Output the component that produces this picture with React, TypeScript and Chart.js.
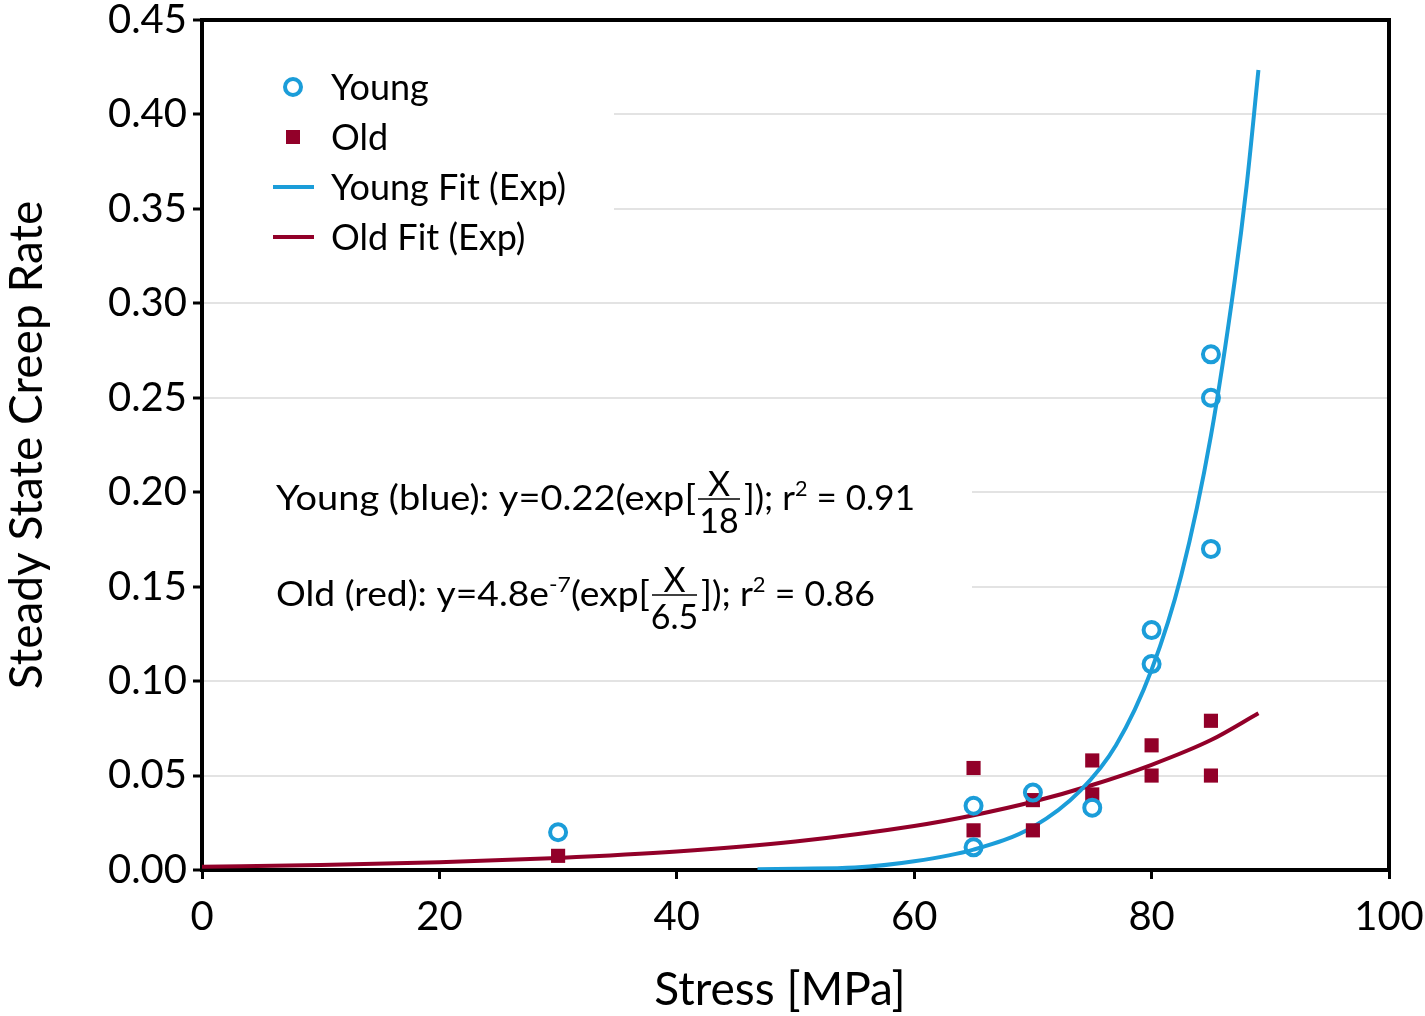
import { Chart, registerables } from "chart.js";
import { useEffect, useRef } from "react";

Chart.register(...registerables);

// measured points
const youngStress = [30, 65, 65, 70, 75, 80, 80, 85, 85, 85];
const youngRate = [0.02, 0.034, 0.012, 0.041, 0.033, 0.127, 0.109, 0.273, 0.25, 0.17];
const oldStress = [30, 65, 65, 70, 70, 75, 75, 80, 80, 85, 85];
const oldRate = [0.0075, 0.054, 0.021, 0.037, 0.021, 0.058, 0.04, 0.066, 0.05, 0.079, 0.05];

// fit curves
const youngFitStress = [46.8, 50, 55, 60, 65, 70, 74, 77, 80, 82.5, 85, 87, 88, 89];
const youngFitRate = [0.0004, 0.0007, 0.0013, 0.0046, 0.0108, 0.0228, 0.042, 0.066, 0.106, 0.156, 0.23, 0.312, 0.362, 0.4235];
const oldFitStress = [0, 10, 20, 30, 40, 50, 60, 65, 70, 75, 80, 85, 89];
const oldFitRate = [0.0017, 0.0026, 0.0041, 0.0064, 0.0098, 0.0151, 0.0233, 0.029, 0.0361, 0.045, 0.0557, 0.0688, 0.083];

const xTicks = [0, 20, 40, 60, 80, 100];
const yTicks = [0, 0.05, 0.1, 0.15, 0.2, 0.25, 0.3, 0.35, 0.4, 0.45];

const legendLabels = ["Young", "Old", "Young Fit (Exp)", "Old Fit (Exp)"];

const BLUE = "#1b9dd9";
const RED = "#920029";
const FONT = "Lato, 'Noto Sans', sans-serif";

const zip = (xs: number[], ys: number[]) => xs.map((x, i) => ({ x, y: ys[i] }));

type Piece = { t: string; sup?: boolean };

const overlay = {
  id: "overlay",
  beforeDatasetsDraw(chart: Chart) {
    const { ctx, chartArea } = chart;
    ctx.save();
    ctx.fillStyle = "#fff";
    ctx.fillRect(chartArea.left + 2, chartArea.top + 2, 410, 245);
    ctx.fillRect(chartArea.left + 2, 455, 768, 180);

    // frame
    ctx.strokeStyle = "#000";
    ctx.lineWidth = 4;
    ctx.strokeRect(chartArea.left, chartArea.top, chartArea.right - chartArea.left, chartArea.bottom - chartArea.top);

    // x axis title, sits a little left of the plot centre
    ctx.fillStyle = "#000";
    ctx.font = `46px ${FONT}`;
    ctx.textAlign = "center";
    ctx.textBaseline = "middle";
    ctx.fillText("Stress [MPa]", 780, 990);
    ctx.textAlign = "left";

    // legend
    ctx.font = `36px ${FONT}`;
    const rows = [87, 137, 187, 237];
    legendLabels.forEach((t, i) => {
      const y = rows[i];
      if (i === 0) {
        ctx.beginPath();
        ctx.arc(293, y, 8, 0, Math.PI * 2);
        ctx.strokeStyle = BLUE;
        ctx.lineWidth = 4;
        ctx.stroke();
      } else if (i === 1) {
        ctx.fillStyle = RED;
        ctx.fillRect(286, y - 7, 14, 14);
      } else {
        ctx.beginPath();
        ctx.moveTo(273, y);
        ctx.lineTo(314, y);
        ctx.strokeStyle = i === 2 ? BLUE : RED;
        ctx.lineWidth = 4;
        ctx.stroke();
      }
      ctx.fillStyle = "#000";
      ctx.fillText(t, 331, y + 1);
    });

    // fit equations
    const main = `34px ${FONT}`;
    const small = `21px ${FONT}`;
    ctx.fillStyle = "#000";
    ctx.textBaseline = "alphabetic";
    const run = (pieces: Piece[], x0: number, x1: number, y: number) => {
      const widths = pieces.map((p) => {
        ctx.font = p.sup ? small : main;
        return ctx.measureText(p.t).width;
      });
      const total = widths.reduce((a, b) => a + b, 0);
      const k = (x1 - x0) / total;
      let x = x0;
      pieces.forEach((p, i) => {
        ctx.save();
        ctx.font = p.sup ? small : main;
        ctx.translate(x, p.sup ? y - 14 : y);
        ctx.scale(k, 1);
        ctx.fillText(p.t, 0, 0);
        ctx.restore();
        x += widths[i] * k;
      });
    };
    const frac = (num: string, den: string, x0: number, x1: number, bar: number) => {
      ctx.beginPath();
      ctx.moveTo(x0, bar);
      ctx.lineTo(x1, bar);
      ctx.strokeStyle = "#000";
      ctx.lineWidth = 1.5;
      ctx.stroke();
      ctx.font = main;
      ctx.textAlign = "center";
      ctx.fillText(num, (x0 + x1) / 2, bar - 3);
      ctx.textBaseline = "top";
      ctx.fillText(den, (x0 + x1) / 2, bar + 6);
      ctx.textBaseline = "alphabetic";
      ctx.textAlign = "left";
    };

    run([{ t: "Young (blue): y=0.22(exp[" }], 276, 696, 510);
    frac("X", "18", 698, 740, 499);
    run([{ t: "]); r" }, { t: "2", sup: true }, { t: " = 0.91" }], 744, 915, 510);

    run([{ t: "Old (red): y=4.8e" }, { t: "-7", sup: true }, { t: "(exp[" }], 276, 650, 606);
    frac("X", "6.5", 652, 697, 595);
    run([{ t: "]); r" }, { t: "2", sup: true }, { t: " = 0.86" }], 701, 875, 606);
    ctx.restore();
  },
};

export default function App() {
  const ref = useRef<HTMLCanvasElement>(null);

  useEffect(() => {
    if (!ref.current) return;
    document.body.style.margin = "0";

    const chart = new Chart(ref.current, {
      type: "scatter",
      data: {
        datasets: [
          {
            label: "Young",
            data: zip(youngStress, youngRate),
            pointStyle: "circle",
            pointRadius: 8,
            pointBorderWidth: 4,
            borderColor: BLUE,
            backgroundColor: "rgba(0,0,0,0)",
          },
          {
            label: "Old",
            data: zip(oldStress, oldRate),
            pointStyle: "rect",
            pointRadius: 10,
            pointBorderWidth: 0,
            borderColor: RED,
            backgroundColor: RED,
          },
          {
            label: "Young Fit (Exp)",
            data: zip(youngFitStress, youngFitRate),
            showLine: true,
            pointRadius: 0,
            borderColor: BLUE,
            borderWidth: 4,
            cubicInterpolationMode: "monotone",
          },
          {
            label: "Old Fit (Exp)",
            data: zip(oldFitStress, oldFitRate),
            showLine: true,
            pointRadius: 0,
            borderColor: RED,
            borderWidth: 4,
            cubicInterpolationMode: "monotone",
          },
        ],
      },
      options: {
        responsive: true,
        maintainAspectRatio: false,
        animation: false,
        layout: { padding: { top: 20, right: 36, left: 0, bottom: 0 } },
        plugins: { legend: { display: false }, tooltip: { enabled: false } },
        scales: {
          x: {
            type: "linear",
            min: 0,
            max: 100,
            afterFit: (s: any) => {
              s.height = 146;
              s.paddingLeft = 0;
              s.paddingRight = 0;
            },
            afterBuildTicks: (s) => {
              s.ticks = xTicks.map((value) => ({ value }));
            },
            ticks: { color: "#000", font: { family: FONT, size: 40 }, padding: 14 },
            grid: { drawOnChartArea: false, tickLength: 9, tickWidth: 3, tickColor: "#000" },
            border: { display: true, color: "#000", width: 4 },
          },
          y: {
            min: 0,
            max: 0.45,
            afterFit: (s: any) => {
              s.width = 202;
              s.paddingTop = 0;
              s.paddingBottom = 0;
            },
            afterBuildTicks: (s) => {
              s.ticks = yTicks.map((value) => ({ value }));
            },
            ticks: {
              color: "#000",
              font: { family: FONT, size: 40 },
              padding: 6,
              callback: (v) => Number(v).toFixed(2),
            },
            grid: { color: "#e3e3e3", lineWidth: 2, tickLength: 9, tickWidth: 3, tickColor: "#000" },
            border: { display: true, color: "#000", width: 4 },
            title: {
              display: true,
              text: "Steady State Creep Rate",
              color: "#000",
              font: { family: FONT, size: 46 },
              padding: { top: 0, bottom: 0 },
            },
          },
        },
      },
      plugins: [overlay],
    });
    return () => chart.destroy();
  }, []);

  return (
    <div style={{ width: 1425, height: 1016, position: "relative" }}>
      <canvas ref={ref} />
    </div>
  );
}
